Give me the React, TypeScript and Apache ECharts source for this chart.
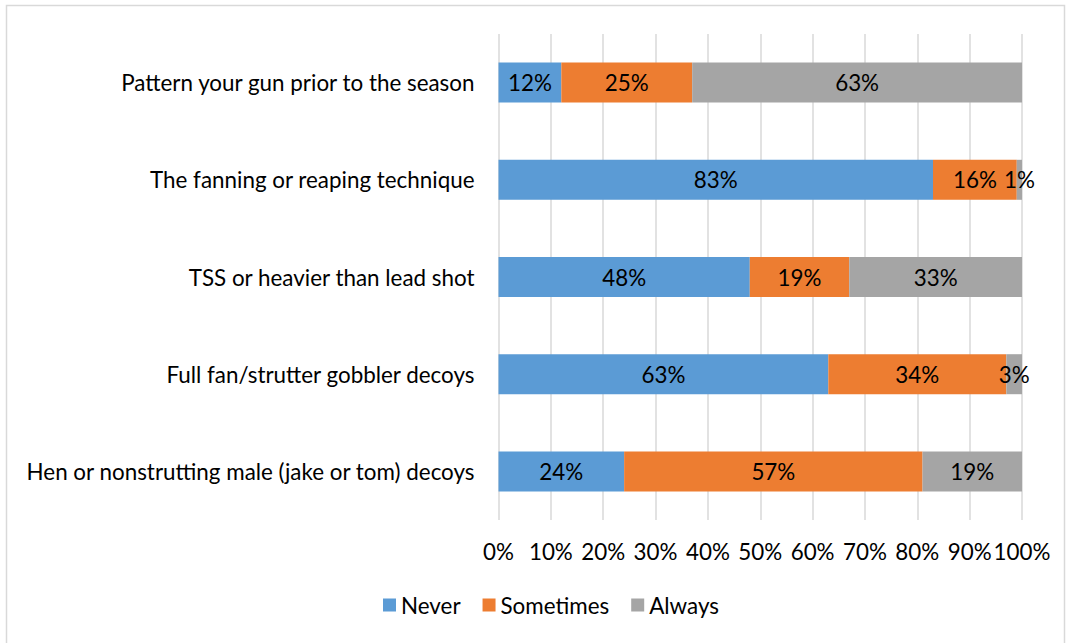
import React, { useEffect, useRef } from "react";
import * as echarts from "echarts";

const categories = [
  "Pattern your gun prior to the season",
  "The fanning or reaping technique",
  "TSS or heavier than lead shot",
  "Full fan/strutter gobbler decoys",
  "Hen or nonstrutting male (jake or tom) decoys",
];
const never = [12, 83, 48, 63, 24];
const sometimes = [25, 16, 19, 34, 57];
const always = [63, 1, 33, 3, 19];
const xTicks = [0, 10, 20, 30, 40, 50, 60, 70, 80, 90, 100];

const FONT = "Lato";
const SIZE = 22.4;
const TEXT = "#000000";

export default function App() {
  const ref = useRef<HTMLDivElement>(null);

  useEffect(() => {
    if (!ref.current) return;
    const chart = echarts.init(ref.current, null, { renderer: "svg" });

    const label = {
      show: true,
      position: "inside" as const,
      formatter: (p: any) => `${p.value}%`,
      color: TEXT,
      fontFamily: FONT,
      fontSize: SIZE,
    };

    const mk = (name: string, data: number[], color: string) => ({
      name,
      type: "bar" as const,
      stack: "total",
      data,
      barWidth: 40,
      itemStyle: { color },
      label,
    });

    chart.setOption({
      animation: false,
      textStyle: { fontFamily: FONT },
      graphic: [
        {
          type: "rect",
          shape: { x: 6.5, y: 5.5, width: 1058, height: 700 },
          style: { fill: "none", stroke: "#d9d9d9", lineWidth: 1.5 },
          silent: true,
        },
      ],
      grid: { left: 498.5, right: 44, top: 34, bottom: 123 },
      legend: {
        top: 589,
        left: 378,
        itemWidth: 13,
        itemHeight: 13,
        itemGap: 22,
        icon: "rect",
        textStyle: { fontFamily: FONT, fontSize: SIZE, color: TEXT },
        data: ["Never", "Sometimes", "Always"],
      },
      xAxis: {
        type: "value",
        min: 0,
        max: 100,
        interval: 10,
        axisLine: { show: false },
        axisTick: { show: false },
        splitLine: { show: true, lineStyle: { color: "#d9d9d9", width: 1.5 } },
        axisLabel: {
          margin: 20,
          color: TEXT,
          fontFamily: FONT,
          fontSize: SIZE,
          formatter: (v: number) => (xTicks.includes(v) ? `${v}%` : ""),
        },
      },
      yAxis: {
        type: "category",
        inverse: true,
        data: categories,
        axisLine: { show: false },
        axisTick: { show: false },
        axisLabel: { margin: 24, color: TEXT, fontFamily: FONT, fontSize: SIZE },
      },
      series: [
        mk("Never", never, "#5B9BD5"),
        mk("Sometimes", sometimes, "#ED7D31"),
        mk("Always", always, "#A5A5A5"),
      ],
    });

    return () => chart.dispose();
  }, []);

  return (
    <div
      ref={ref}
      style={{ position: "absolute", left: 0, top: 0, width: 1066, height: 643, background: "#fff" }}
    />
  );
}
